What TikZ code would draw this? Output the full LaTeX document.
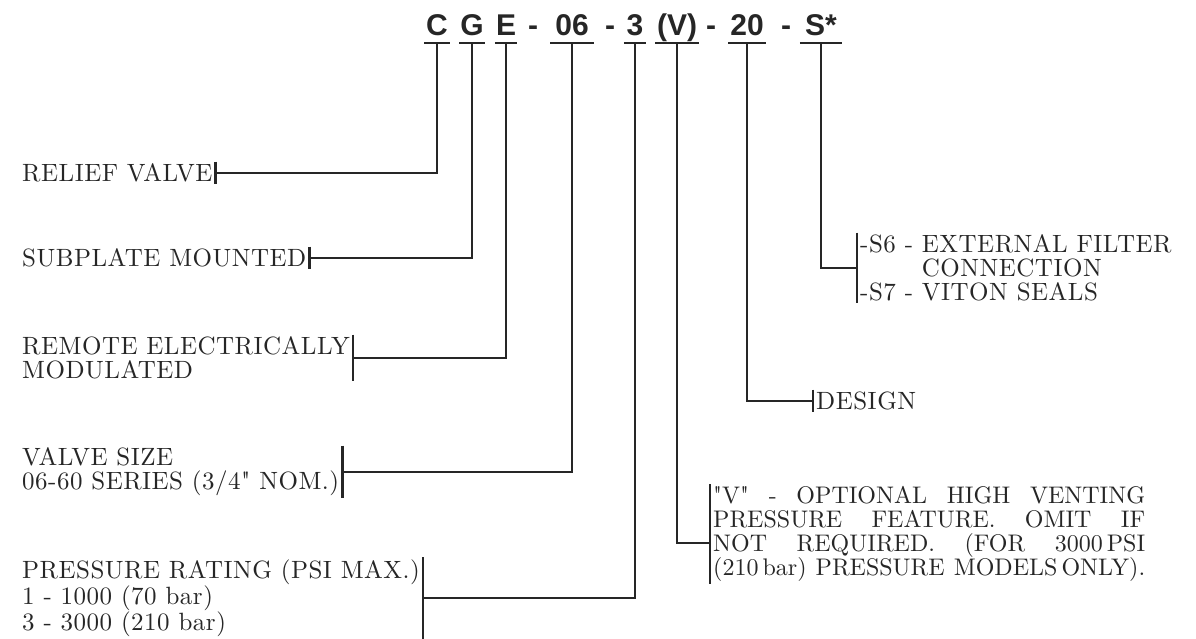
\documentclass[tikz,border=0pt]{standalone}
\usepackage{fontspec}
\newfontfamily\codefam{Liberation Sans}
\newfontfamily\lblfam{lmroman10-regular}[Extension=.otf, LetterSpace=2]
\newfontfamily\ventfam{lmroman10-regular}[Extension=.otf]
\usetikzlibrary{positioning,calc}
\colorlet{ink}{black!85}
\tikzset{code/.style={ % letters of the model code
            font=\codefam\bfseries\fontsize{30}{30}\selectfont,
            text=ink,
            inner xsep=1pt, inner ysep=0pt,
            text height=22pt, text depth=8pt,
            anchor=north},
        uline/.style={draw=ink, line width=2pt}, % bar under each code part
        lead/.style={draw=ink, line width=1.5pt}, % leader to the label
        tick/.style={draw=ink, line width=2.4pt}, % bar beside the label
        lbl/.style={ % label text
            font=\lblfam\fontsize{25}{24}\selectfont,
            text=ink,
            align=left,
            inner xsep=3pt, inner ysep=2pt}
        }

\begin{document}
\begin{tikzpicture}[x=1pt,y=-1pt]
    \useasboundingbox (0,0) rectangle (1196,639);

    % model code
    \node[code, minimum width=25pt] (cC)  at (437,13) {C};
    \node[code, minimum width=24pt] (cG)  at (472,13) {G};
    \node[code, minimum width=22pt] (cE)  at (506,13) {E};
    \node[code]                     (d1)  at (533,13) {-};
    \node[code, minimum width=43pt] (c06) at (572,13) {06};
    \node[code]                     (d2)  at (610,13) {-};
    \node[code, minimum width=22pt] (c3)  at (635,13) {3};
    \node[code, minimum width=43pt] (cV)  at (677,13) {(V)};
    \node[code]                     (d3)  at (711,13) {-};
    \node[code, minimum width=37pt] (c20) at (747,13) {20};
    \node[code]                     (d4)  at (786,13) {-};
    \node[code, minimum width=42pt] (cS)  at (821,13) {S*};

    \foreach \n in {cC,cG,cE,c06,c3,cV,c20,cS}
        \draw[uline] (\n.south west) -- (\n.south east);

    % labels on the left
    \node[lbl, anchor=west] (relief)    at (19,173) {RELIEF VALVE};
    \node[lbl, anchor=west] (subplate)  at (19,258) {SUBPLATE MOUNTED};
    \node[lbl, anchor=west] (remote)    at (19,358) {REMOTE ELECTRICALLY\\MODULATED};
    \node[lbl, anchor=west] (valvesize) at (19,472) {VALVE SIZE\\06-60 SERIES (3/4" NOM.)};
    \node[lbl, anchor=west] (pressure)  at (19,598) {PRESSURE RATING (PSI MAX.)\\1 - 1000 (70 bar)\\3 - 3000 (210 bar)};

    % labels on the right
    \node[lbl, anchor=west] (seals)  at (857,268) {-S6 - EXTERNAL FILTER\\\phantom{-S6 - }CONNECTION\\-S7 - VITON SEALS};
    \node[lbl, anchor=west] (design) at (813,401) {DESIGN};
    \node[lbl, anchor=west, font=\ventfam\fontsize{24}{24}\selectfont] (vent) at (710,534)
        {\makebox[432pt][s]{"V" - OPTIONAL HIGH VENTING}\\
         \makebox[432pt][s]{PRESSURE FEATURE. OMIT IF}\\
         \makebox[432pt][s]{NOT REQUIRED. (FOR 3000\,PSI}\\
         \makebox[432pt][s]{(210\,bar) PRESSURE MODELS\,ONLY).}};

    \foreach \n in {relief,subplate,remote,valvesize,pressure}
        \draw[tick] (\n.north east) -- (\n.south east);
    \foreach \n in {seals,design,vent}
        \draw[tick] (\n.north west) -- (\n.south west);

    % leaders
    \draw[lead] (cC.south)  |- (relief.east);
    \draw[lead] (cG.south)  |- (subplate.east);
    \draw[lead] (cE.south)  |- (remote.east);
    \draw[lead] (c06.south) |- (valvesize.east);
    \draw[lead] (c3.south)  |- (pressure.east);
    \draw[lead] (cV.south)  |- ([yshift=-9pt]vent.west);
    \draw[lead] (c20.south) |- (design.west);
    \draw[lead] (cS.south)  |- (seals.west);
\end{tikzpicture}
\end{document}
